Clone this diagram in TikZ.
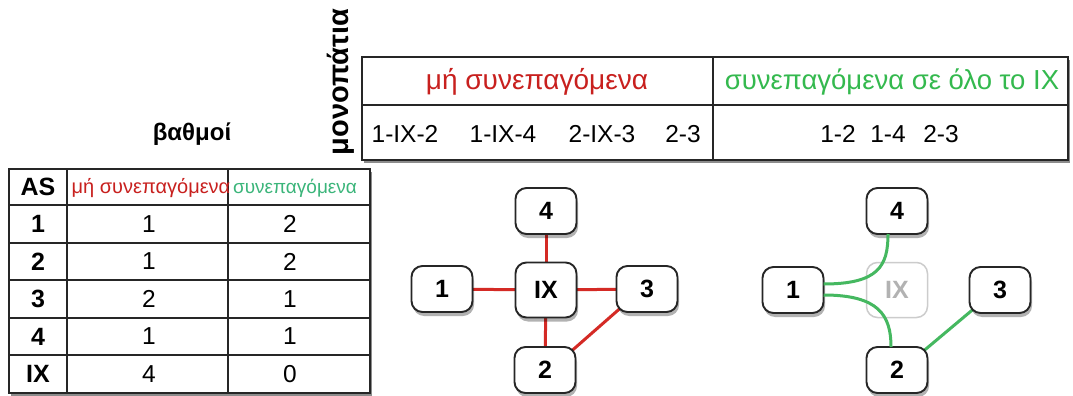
\documentclass[tikz,border=0pt]{standalone}
\usepackage{fontspec}
\setmainfont{Liberation Sans}
\usetikzlibrary{shadows,backgrounds}
\definecolor{txtred}{HTML}{C8201E}
\definecolor{txtgreen}{HTML}{34B94E}
\definecolor{txtteal}{HTML}{3BB57A}
\definecolor{linkred}{HTML}{D42A25}
\definecolor{linkgreen}{HTML}{45B860}
\newcommand\setfs[1]{\fontsize{#1}{#1}\selectfont}
\begin{document}
\begin{tikzpicture}[x=1pt,y=-1pt,
  every node/.style={inner sep=0pt, outer sep=0pt},
  asnode/.style={draw=black!85, line width=1.9pt, rounded corners=11pt, fill=white,
    minimum width=61pt, minimum height=46pt, font=\setfs{25}\bfseries,
    drop shadow={shadow xshift=1.5pt, shadow yshift=-4pt, opacity=0.3, fill=black}},
  ghost/.style={draw=black!20, line width=1.5pt, rounded corners=11pt, fill=white,
    minimum width=61pt, minimum height=55pt, text=black!30, font=\setfs{25}\bfseries},
  redlink/.style={draw=linkred, line width=3pt},
  greenlink/.style={draw=linkgreen, line width=3pt},
  grid/.style={line width=1.5pt, draw=black!85},
  tableshadow/.style={drop shadow={shadow xshift=2pt, shadow yshift=-3pt, opacity=0.45, fill=black}},
  cellbold/.style={font=\setfs{25}\bfseries},
  cell/.style={font=\setfs{24.5}},
]
\useasboundingbox (0,0) rectangle (1073,396);
\begin{scope}[on background layer]
  \fill[white] (0,0) rectangle (1073,396);
\end{scope}

% ---------- paths table ----------
\node[rotate=90, font=\setfs{29}\bfseries] (paths) at (341,82) {μονοπάτια};
\filldraw[grid, fill=white, tableshadow] (362,57) rectangle (1068,160);
\draw[grid] (362,105) -- (1068,105);
\draw[grid] (713,57) -- (713,160);
\node[text=txtred, font=\setfs{28}] (hnot) at (537,82) {μή συνεπαγόμενα};
\node[text=txtgreen, font=\setfs{27.5}] (hyes) at (892,82) {συνεπαγόμενα σε όλο το IX};
\node[cell] (p1) at (405,134) {1-IX-2};
\node[cell] (p2) at (503,134) {1-IX-4};
\node[cell] (p3) at (602,134) {2-IX-3};
\node[cell] (p4) at (683,134) {2-3};
\node[cell] (q1) at (838,134) {1-2};
\node[cell] (q2) at (888,134) {1-4};
\node[cell] (q3) at (941,134) {2-3};

% ---------- degrees table ----------
\node[font=\setfs{24}\bfseries] (deg) at (192,134) {βαθμοί};
\filldraw[grid, line width=2pt, fill=white, tableshadow] (9,169) rectangle (370,393);
\foreach \y in {205,243,280,318,355} \draw[grid] (9,\y) -- (370,\y);
\draw[grid] (67,169) -- (67,393);
\draw[grid] (228,169) -- (228,393);
\node[cellbold] (hAS) at (38,187) {AS};
\node[text=txtred, font=\setfs{20}] (hcolA) at (151,188) {μή συνεπαγόμενα};
\node[text=txtteal, font=\setfs{19}] (hcolB) at (295,188) {συνεπαγόμενα};
\foreach \name/\a/\b [count=\i] in {1/1/2, 2/1/2, 3/2/1, 4/1/1, IX/4/0} {
  \pgfmathsetmacro\ry{224+37.5*(\i-1)}
  \node[cellbold] (r\i) at (38,\ry) {\name};
  \node[cell] (a\i) at (149,\ry) {\a};
  \node[cell] (b\i) at (290,\ry) {\b};
}

% ---------- graph without the exchange ----------
\node[asnode] (n4) at (546,211) {4};
\node[asnode, minimum height=55pt] (nIX) at (546,290) {IX};
\node[asnode] (n1) at (442,289) {1};
\node[asnode] (n3) at (647,289) {3};
\node[asnode] (n2) at (545,370) {2};
\begin{scope}[on background layer]
  \draw[redlink] (n1) -- (nIX);
  \draw[redlink] (nIX) -- (n3);
  \draw[redlink] (n4) -- (nIX);
  \draw[redlink] (nIX) -- (n2);
  \draw[redlink] ([xshift=-4pt,yshift=-4pt]n2.north east) -- ([xshift=4pt,yshift=4pt]n3.south west);
\end{scope}

% ---------- graph with the exchange ----------
\node[ghost] (mIX) at (897,290) {IX};
\node[asnode] (m4) at (897,211) {4};
\node[asnode] (m1) at (793,290) {1};
\node[asnode] (m3) at (1000,290) {3};
\node[asnode] (m2) at (897,370) {2};
\draw[greenlink] ([yshift=6pt]m1.east) .. controls +(55,0) and +(0,32) .. ([xshift=-9pt]m4.south);
\draw[greenlink] ([yshift=-5pt]m1.east) .. controls +(55,0) and +(0,-32) .. ([xshift=-6pt]m2.north);
\begin{scope}[on background layer]
  \draw[greenlink] ([xshift=-4pt,yshift=-4pt]m2.north east) -- ([xshift=4pt,yshift=4pt]m3.south west);
\end{scope}
\end{tikzpicture}
\end{document}
